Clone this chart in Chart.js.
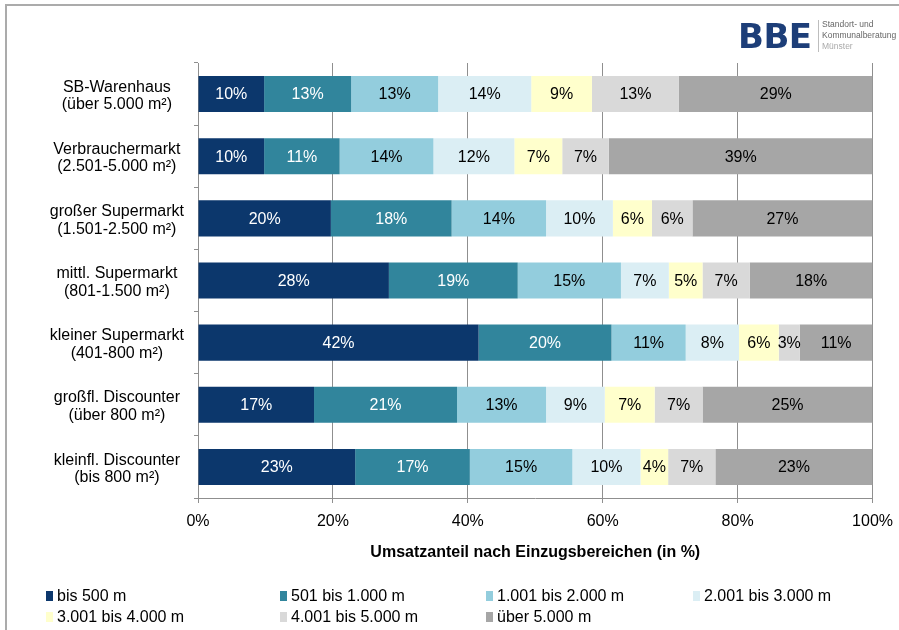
<!DOCTYPE html>
<html>
<head>
<meta charset="utf-8">
<script src="https://cdn.jsdelivr.net/npm/chart.js@4.4.1/dist/chart.umd.min.js"></script>
<style>
  html, body { margin:0; padding:0; background:#fff; }
  #wrap { position:relative; width:899px; height:630px; overflow:hidden; font-family:"Liberation Sans", Arial, sans-serif; }
  #frameTop { position:absolute; left:5px; top:4px; width:894px; height:2px; background:#ababab; }
  #frameLeft { position:absolute; left:5px; top:4px; width:2px; height:626px; background:#ababab; }
  canvas { position:absolute; left:0; top:0; }
  #legend { position:absolute; left:0; top:0; width:899px; }
  .li { position:absolute; font-size:16px; color:#000; white-space:nowrap; line-height:18px; }
  .li span.sw { display:inline-block; width:7px; height:10px; margin-right:4px; vertical-align:0px; }
  #logo { position:absolute; left:738px; top:15px; }
  #bbe { position:absolute; left:0; top:1px; font-weight:bold; font-size:34px; color:#1d3e78; line-height:40px; font-family:"DejaVu Sans", sans-serif; letter-spacing:-0.5px; }
  #sep { position:absolute; left:80px; top:5px; width:1px; height:32px; background:#bdbdbd; }
  #logotxt { position:absolute; left:84px; top:4px; font-size:8.5px; line-height:11px; color:#666; white-space:nowrap; }
</style>
</head>
<body>
<div id="wrap">
  <canvas id="c" width="899" height="630"></canvas>
  <div id="legend"></div>
  <div id="logo">
    <div id="bbe">BBE</div>
    <div id="sep"></div>
    <div id="logotxt">Standort- und<br>Kommunalberatung<br><span style="color:#aaa">Münster</span></div>
  </div>
  <div id="frameTop"></div>
  <div id="frameLeft"></div>
</div>
<script>
const categories = [
  ["SB-Warenhaus", "(über 5.000 m²)"],
  ["Verbrauchermarkt", "(2.501-5.000 m²)"],
  ["großer Supermarkt", "(1.501-2.500 m²)"],
  ["mittl. Supermarkt", "(801-1.500 m²)"],
  ["kleiner Supermarkt", "(401-800 m²)"],
  ["großfl. Discounter", "(über 800 m²)"],
  ["kleinfl. Discounter", "(bis 800 m²)"]
];
const seriesNames = ["bis 500 m", "501 bis 1.000 m", "1.001 bis 2.000 m", "2.001 bis 3.000 m",
                     "3.001 bis 4.000 m", "4.001 bis 5.000 m", "über 5.000 m"];
const bis500   = [9.8, 9.8, 19.7, 28.3, 41.6, 17.2, 23.3];
const bis1000  = [12.9, 11.2, 17.9, 19.1, 19.7, 21.2, 17.0];
const bis2000  = [12.9, 13.9, 14.0, 15.3, 11.0, 13.2, 15.2];
const bis3000  = [13.8, 12.0, 9.9, 7.1, 7.9, 8.7, 10.1];
const bis4000  = [9.0, 7.1, 5.8, 5.0, 5.9, 7.4, 4.1];
const bis5000  = [12.9, 6.9, 6.0, 7.0, 3.1, 7.1, 7.0];
const ueber5000 = [28.7, 39.1, 26.7, 18.2, 10.8, 25.2, 23.3];
const xTicks = [0, 20, 40, 60, 80, 100];

const seriesValues = [bis500, bis1000, bis2000, bis3000, bis4000, bis5000, ueber5000];
const colors = ["#0c376c", "#31859c", "#93cddd", "#dbeef4", "#ffffcc", "#d9d9d9", "#a6a6a6"];
const labelColors = ["#ffffff", "#ffffff", "#000", "#000", "#000", "#000", "#000"];

const FONT = "'Liberation Sans', Arial, sans-serif";

const barLabels = {
  id: 'barLabels',
  afterDatasetsDraw(chart) {
    const ctx = chart.ctx;
    ctx.save();
    ctx.font = "16px " + FONT;
    ctx.textAlign = 'center';
    ctx.textBaseline = 'middle';
    chart.data.datasets.forEach((ds, i) => {
      const meta = chart.getDatasetMeta(i);
      meta.data.forEach((el, j) => {
        const v = ds.data[j];
        const p = el.getCenterPoint();
        ctx.fillStyle = labelColors[i];
        ctx.fillText(Math.round(v) + '%', p.x, p.y + 1);
      });
    });
    ctx.restore();
  }
};

new Chart(document.getElementById('c'), {
  type: 'bar',
  data: {
    labels: categories,
    datasets: seriesValues.map((vals, i) => ({
      label: seriesNames[i],
      data: vals,
      backgroundColor: colors[i],
      borderWidth: 0,
      barPercentage: 0.58,
      categoryPercentage: 1.0
    }))
  },
  options: {
    indexAxis: 'y',
    responsive: false,
    animation: false,
    devicePixelRatio: 1,
    layout: { padding: { left: 0, right: 26, top: 63, bottom: 62 } },
    plugins: { legend: { display: false }, tooltip: { enabled: false } },
    scales: {
      x: {
        stacked: true,
        min: 0, max: 100,
        afterBuildTicks(scale) { scale.ticks = xTicks.map(v => ({ value: v })); },
        afterFit(scale) { scale.height = 70; },
        ticks: { color: '#000', font: { family: FONT, size: 16, lineHeight: 1.575 }, padding: 6,
                 callback: v => v + '%', maxRotation: 0 },
        grid: { color: '#8f8f8f', lineWidth: 1, tickLength: 5, tickColor: '#8f8f8f' },
        border: { color: '#8f8f8f', width: 1 },
        title: { display: true, text: 'Umsatzanteil nach Einzugsbereichen (in %)',
                 color: '#000', font: { family: FONT, size: 16, weight: 'bold' },
                 padding: { top: 0, bottom: 6 } }
      },
      y: {
        stacked: true,
        afterFit(scale) { scale.width = 198; },
        ticks: { color: '#000', font: { family: FONT, size: 16, lineHeight: 1.1 },
                 crossAlign: 'center', padding: 10, labelOffset: 2 },
        grid: { drawOnChartArea: false, tickLength: 4, color: '#8f8f8f', offset: true },
        border: { color: '#8f8f8f', width: 1 }
      }
    }
  },
  plugins: [barLabels]
});

// HTML legend
const legend = document.getElementById('legend');
const colX = [46, 280, 486, 693];
const rowY = [587, 608];
seriesNames.forEach((n, i) => {
  const d = document.createElement('div');
  d.className = 'li';
  d.style.left = colX[i % 4] + 'px';
  d.style.top = rowY[Math.floor(i / 4)] + 'px';
  d.innerHTML = '<span class="sw" style="background:' + colors[i] + '"></span>' + n;
  legend.appendChild(d);
});
</script>
</body>
</html>
